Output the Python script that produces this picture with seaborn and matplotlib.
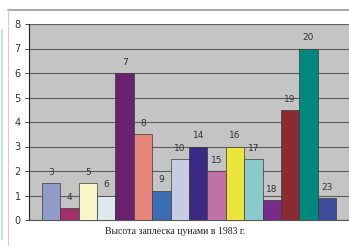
import pandas as pd
import matplotlib.pyplot as plt
import matplotlib.lines as mlines
import seaborn as sns

# bar labels (years of the events) and splash heights
labels = ["3", "4", "5", "6", "7", "8", "9", "10", "14", "15", "16", "17", "18", "19", "20", "23"]
heights = [1.5, 0.5, 1.5, 1.0, 6.0, 3.5, 1.2, 2.5, 3.0, 2.0, 3.0, 2.5, 0.8, 4.5, 7.0, 0.9]
colors = ["#8f9cca", "#a2306c", "#f8f5c8", "#dde9ec", "#6a2270", "#e6857a",
          "#3a6db2", "#c6cce4", "#3a2a82", "#c072a6", "#ece63c", "#8acaca",
          "#7a2a88", "#8a2a32", "#00887c", "#3c4c98"]
y_ticks = [0, 1, 2, 3, 4, 5, 6, 7, 8]
caption = "Высота заплеска цунами в 1983 г."

df = pd.DataFrame({"label": labels, "height": heights})

sns.set_style("white")
fig = plt.figure(figsize=(3.49, 2.46), dpi=100)
ax = fig.add_axes([29 / 349, 1 - 220 / 246, 1 - 29 / 349, (220 - 24) / 246])
ax.set_facecolor("#c4c4c4")

sns.barplot(data=df, x="label", y="height", hue="label", palette=colors,
            legend=False, width=1.0, edgecolor="#3a3a3a", linewidth=0.5,
            saturation=1, ax=ax, zorder=3)

for i, (lab, h) in enumerate(zip(labels, heights)):
    ax.text(i, h + 0.25, lab, ha="center", va="bottom", fontsize=6.5,
            color="#333333", family="DejaVu Sans")

ax.set_ylim(0, 8)
ax.set_xlim(-1.2, 16.2)
ax.set_yticks(y_ticks)
ax.set_xticks([])
ax.set_xlabel("")
ax.set_ylabel("")
ax.yaxis.grid(True, color="#5e5e5e", linewidth=0.8, zorder=0)
ax.set_axisbelow(True)
ax.tick_params(axis="y", left=True, length=3, width=0.6, color="#333333",
               labelsize=7, labelcolor="#333333", pad=3)
for side in ["top", "right"]:
    ax.spines[side].set_visible(False)
ax.spines["left"].set_color("#222222")
ax.spines["left"].set_linewidth(0.8)
ax.spines["bottom"].set_color("#555555")
ax.spines["bottom"].set_linewidth(0.8)

fig.text(175 / 349, 1 - 232 / 246, caption, ha="center", va="center",
         fontsize=7, family="Liberation Serif", color="#222222")

# page frame lines of the scanned figure
fig.add_artist(mlines.Line2D([8 / 349, 1], [1 - 10 / 246, 1 - 10 / 246],
                             transform=fig.transFigure, color="#9a9a9a", linewidth=1.2))
fig.add_artist(mlines.Line2D([8 / 349, 8 / 349], [0, 1 - 10 / 246],
                             transform=fig.transFigure, color="#d0d0d0", linewidth=0.8))
fig.add_artist(mlines.Line2D([1.5 / 349, 1.5 / 349], [0.03, 1 - 30 / 246],
                             transform=fig.transFigure, color="#c6dde6", linewidth=1.5))

fig.savefig("out.png", dpi=100)
